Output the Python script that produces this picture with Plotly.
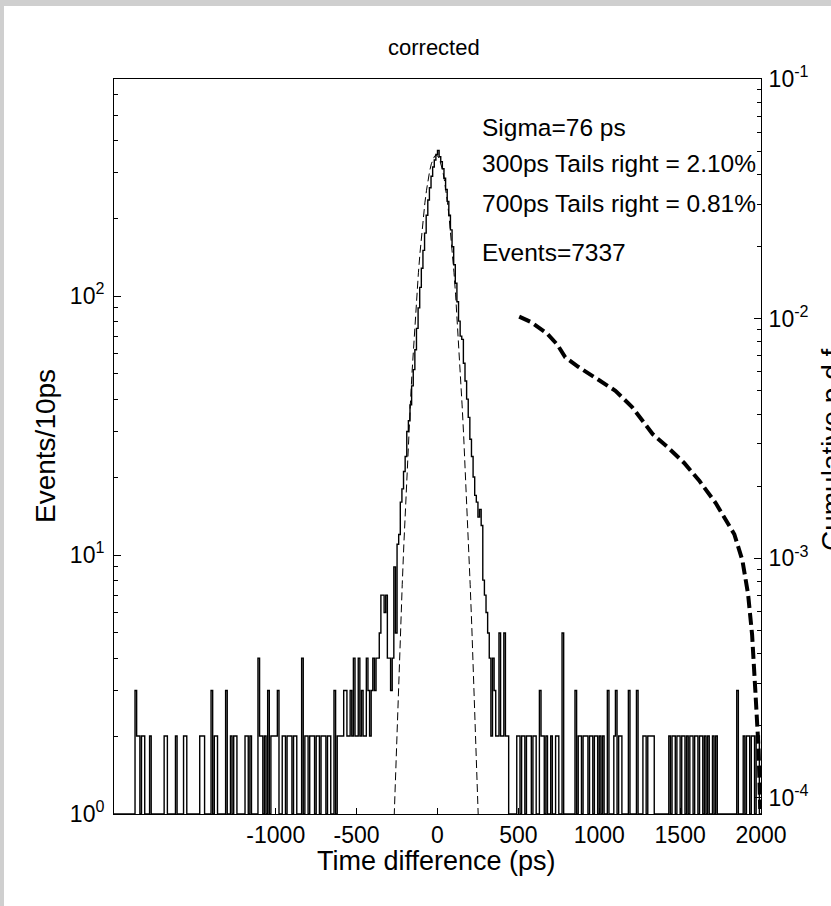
import plotly.graph_objects as go

FONT = "Liberation Sans, Arial, Helvetica, sans-serif"

# ---------------- data ----------------
# histogram: 10 ps bins from -2000 ps to 2000 ps (bin left edges), counts
# (bins with 0 or 1 entries sit on the 10^0 baseline and are written as 1)
bin_width = 10
bin_start = -2000
hist_counts = [
    1, 1, 1, 1, 1, 1, 1, 1, 1, 1, 1, 1, 1, 3, 2, 2, 1, 2, 2, 1,
    1, 1, 2, 1, 1, 1, 1, 1, 1, 1, 1, 2, 2, 1, 1, 1, 1, 1, 2, 1,
    1, 1, 1, 2, 2, 1, 1, 1, 1, 1, 1, 1, 1, 2, 2, 2, 1, 1, 1, 1,
    3, 1, 2, 2, 1, 1, 1, 1, 1, 3, 1, 1, 2, 1, 2, 2, 1, 1, 1, 1,
    1, 2, 2, 1, 2, 1, 1, 1, 1, 4, 2, 2, 1, 2, 1, 3, 1, 2, 2, 2,
    2, 3, 1, 1, 2, 2, 1, 2, 2, 2, 1, 2, 2, 1, 1, 1, 4, 1, 2, 2,
    1, 2, 2, 2, 1, 2, 2, 1, 2, 2, 2, 1, 2, 2, 1, 1, 3, 1, 2, 2,
    2, 2, 3, 3, 2, 2, 3, 2, 4, 2, 2, 4, 2, 3, 2, 2, 4, 3, 2, 3,
    4, 3, 4, 4, 5, 7, 7, 6, 7, 4, 4, 3, 4, 9, 5, 11, 12, 16, 18, 21,
    24, 30, 33, 38, 45, 52, 62, 75, 90, 108, 128, 150, 175, 205, 235, 262, 290, 315, 335, 352,
    365, 345, 330, 310, 285, 258, 232, 205, 180, 155, 132, 112, 95, 80, 70, 68, 55, 47, 40, 34,
    28, 24, 20, 17, 16, 14, 15, 13, 8, 7, 6, 5, 4, 2, 4, 3, 2, 2, 5, 2,
    2, 5, 2, 2, 1, 1, 1, 1, 1, 2, 2, 1, 2, 2, 1, 2, 2, 2, 1, 2,
    2, 1, 1, 3, 2, 2, 1, 2, 1, 1, 2, 1, 1, 2, 2, 1, 1, 5, 1, 1,
    1, 1, 1, 1, 1, 3, 1, 2, 2, 1, 2, 2, 2, 1, 2, 2, 1, 2, 2, 1,
    2, 1, 2, 1, 1, 3, 1, 1, 1, 2, 3, 1, 2, 2, 1, 1, 1, 1, 3, 1,
    1, 1, 1, 3, 1, 1, 1, 2, 2, 1, 2, 2, 2, 2, 1, 1, 1, 1, 1, 1,
    1, 1, 1, 2, 1, 2, 2, 1, 2, 2, 1, 2, 2, 1, 2, 1, 2, 2, 1, 2,
    2, 1, 2, 2, 1, 2, 1, 2, 1, 1, 2, 1, 2, 1, 1, 1, 1, 1, 1, 1,
    1, 1, 1, 1, 1, 3, 1, 1, 1, 2, 1, 2, 2, 1, 2, 2, 1, 2, 2, 1,
]

fit_x = [-278, -268, -258, -248, -238, -228, -218, -208, -198, -188, -178, -168, -158, -148,
         -138, -128, -118, -108, -98, -88, -78, -68, -58, -48, -38, -28, -18, -8,
         2, 12, 22, 32, 42, 52, 62, 72, 82, 92, 102, 112, 122, 132, 142, 152, 162,
         172, 182, 192, 202, 212, 222, 232, 242, 252, 262]
fit_y = [0.64, 1.0, 1.56, 2.39, 3.6, 5.3, 7.7, 11.0, 15.4, 21.2, 28.7, 38, 50, 64,
         81, 101, 123, 147, 174, 201, 229, 256, 282, 305, 324, 338, 347, 350,
         347, 338, 324, 305, 282, 256, 229, 201, 174, 147, 123, 101, 81, 64, 50, 38,
         28.7, 21.2, 15.4, 11.0, 7.7, 5.3, 3.6, 2.39, 1.56, 1.0, 0.64]

# cumulative right-tail fraction (right axis, thick dashed)
cum_x = [505, 575, 675, 740, 790, 870, 970, 1100, 1200, 1330, 1425, 1525, 1620, 1720,
         1835, 1885, 1920, 1945, 1965, 1985, 1995]
cum_y = [0.0102, 0.0097, 0.0087, 0.0078, 0.0069, 0.0063, 0.0057, 0.0050, 0.0043, 0.0033,
         0.0029, 0.0025, 0.0021, 0.0017, 0.00126, 0.00098, 0.00071, 0.00048, 0.00028,
         0.00016, 0.00009]

x_tick_vals = [-1000, -500, 0, 500, 1000, 1500, 2000]
x_tick_text = ["-1000", "-500", "0", "500", "1000", "1500", "2000"]
y_tick_vals = [1, 10, 100]
y_tick_text = ["10<sup>0</sup>", "10<sup>1</sup>", "10<sup>2</sup>"]
y_minor_vals = [2, 3, 4, 5, 6, 7, 8, 9, 20, 30, 40, 50, 60, 70, 80, 90, 200, 300, 400, 500, 600]
y2_tick_vals = [1e-4, 1e-3, 1e-2, 1e-1]
y2_tick_text = ["10<sup>-4</sup>", "10<sup>-3</sup>", "10<sup>-2</sup>", "10<sup>-1</sup>"]
y2_minor_vals = [2e-4, 3e-4, 4e-4, 5e-4, 6e-4, 7e-4, 8e-4, 9e-4,
                 2e-3, 3e-3, 4e-3, 5e-3, 6e-3, 7e-3, 8e-3, 9e-3,
                 2e-2, 3e-2, 4e-2, 5e-2, 6e-2, 7e-2, 8e-2, 9e-2]

title_text = "corrected"
x_label = "Time difference (ps)"
y_label = "Events/10ps"
y2_label = "Cumulative p.d.f."
info_lines = ["Sigma=76 ps", "300ps Tails right = 2.10%", "700ps Tails right = 0.81%", "Events=7337"]

# ---------------- figure ----------------
hist_x = [bin_start + bin_width * i for i in range(len(hist_counts) + 1)]
hist_y = hist_counts + [hist_counts[-1]]

fig = go.Figure()
fig.add_trace(go.Scatter(x=hist_x, y=hist_y, mode="lines", line=dict(color="black", width=1.4, shape="hv"),
                         showlegend=False, hoverinfo="skip"))
fig.add_trace(go.Scatter(x=fit_x, y=fit_y, mode="lines", line=dict(color="black", width=1, dash="8px,4px"),
                         showlegend=False, hoverinfo="skip"))
fig.add_trace(go.Scatter(x=cum_x, y=cum_y, mode="lines", yaxis="y2",
                         line=dict(color="black", width=4, dash="12px,5px"),
                         showlegend=False, hoverinfo="skip"))

L, R, T, B = 114, 70, 79, 92
W, H = 831, 906
pw, ph = W - L - R, H - T - B


def px_x(px):
    return (px - L) / pw


def px_y(py):
    return (H - B - py) / ph


axis_common = dict(showgrid=False, zeroline=False, showline=True, linecolor="black", linewidth=1,
                   ticks="inside", tickcolor="black", tickwidth=1,
                   tickfont=dict(family=FONT, size=23, color="black"))

fig.update_layout(
    width=W, height=H, autosize=False,
    margin=dict(l=L, r=R, t=T, b=B, pad=0),
    paper_bgcolor="white", plot_bgcolor="white",
    xaxis=dict(range=[-2000, 2000], tickmode="array", tickvals=x_tick_vals, ticktext=x_tick_text,
               ticklen=6, mirror=True, ticklabelstandoff=0, **axis_common),
    yaxis=dict(type="log", range=[0, 2.838], tickmode="array", tickvals=y_tick_vals, ticktext=y_tick_text,
               ticklen=7, ticklabelstandoff=4,
               minor=dict(ticks="inside", ticklen=4, tickcolor="black", tickvals=y_minor_vals, showgrid=False),
               **axis_common),
    yaxis2=dict(type="log", range=[-4.067, -1], overlaying="y", side="right", tickmode="array",
                tickvals=y2_tick_vals, ticktext=y2_tick_text, ticklen=7, ticklabelstandoff=2,
                minor=dict(ticks="inside", ticklen=4, tickcolor="black", tickvals=y2_minor_vals, showgrid=False),
                **axis_common),
)

ann = []
ann.append(dict(text=title_text, xref="paper", yref="paper", x=px_x(434), y=px_y(47),
                xanchor="center", yanchor="middle", showarrow=False,
                font=dict(family=FONT, size=22, color="black")))
ann.append(dict(text=x_label, xref="paper", yref="paper", x=px_x(436), y=px_y(861),
                xanchor="center", yanchor="middle", showarrow=False,
                font=dict(family=FONT, size=27, color="black")))
ann.append(dict(text=y_label, xref="paper", yref="paper", x=px_x(46), y=px_y(446),
                xanchor="center", yanchor="middle", showarrow=False, textangle=-90,
                font=dict(family=FONT, size=28, color="black")))
ann.append(dict(text=y2_label, xref="paper", yref="paper", x=px_x(832), y=px_y(446),
                xanchor="center", yanchor="middle", showarrow=False, textangle=-90,
                font=dict(family=FONT, size=28, color="black")))
for txt, py in zip(info_lines, [127, 163, 204, 253]):
    ann.append(dict(text=txt, xref="paper", yref="paper", x=px_x(480), y=px_y(py),
                    xanchor="left", yanchor="middle", showarrow=False,
                    font=dict(family=FONT, size=24.5, color="black")))
fig.update_layout(annotations=ann)

# grey screenshot frame on the top and left edges
fig.update_layout(shapes=[
    dict(type="rect", xref="paper", yref="paper", x0=px_x(-2), x1=px_x(4), y0=px_y(910), y1=px_y(-2),
         fillcolor="#cfcfcf", line=dict(width=0), layer="above"),
    dict(type="rect", xref="paper", yref="paper", x0=px_x(-2), x1=px_x(833), y0=px_y(6), y1=px_y(-2),
         fillcolor="#cfcfcf", line=dict(width=0), layer="above"),
])

# remove the default page margin so the figure starts at the window's top-left corner
fig.write_html("out.html", config={"displayModeBar": False},
               post_script="document.body.style.margin='0px';")
